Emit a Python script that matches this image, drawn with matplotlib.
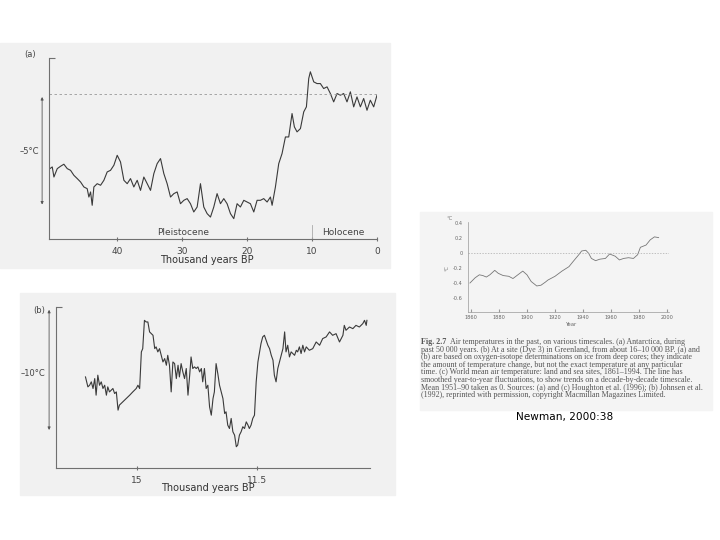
import numpy as np
import matplotlib
matplotlib.use("Agg")
import matplotlib.pyplot as plt
from matplotlib.patches import Rectangle

W, H = 720, 540

# (a) Antarctica, last 50 000 years: thousand years BP, temperature change (deg C)
a_kyr = [50.36, 50.0, 49.74, 49.23, 48.72, 48.21, 47.69, 47.18, 46.67, 46.15, 45.64, 45.13,
         44.62, 44.36, 44.10, 43.85, 43.59, 43.08, 42.56, 42.05, 41.54, 41.03, 40.51, 40.0,
         39.49, 38.97, 38.46, 37.95, 37.44, 36.92, 36.41, 35.90, 35.38, 34.87, 34.36, 33.85,
         33.33, 32.82, 32.31, 31.79, 31.28, 30.77, 30.26, 29.74, 29.23, 28.72, 28.21, 27.69,
         27.18, 26.67, 26.15, 25.64, 25.13, 24.62, 24.10, 23.59, 23.08, 22.56, 22.05, 21.54,
         21.03, 20.51, 20.0, 19.49, 18.97, 18.46, 17.95, 17.44, 16.92, 16.41, 16.15, 15.64,
         15.13, 14.62, 14.10, 13.59, 13.08, 12.72, 12.31, 11.79, 11.28, 10.87, 10.51, 10.26,
         9.74, 9.23, 8.72, 8.21, 7.69, 7.18, 6.67, 6.15, 5.64, 5.13, 4.62, 4.10, 3.59, 3.08,
         2.56, 2.05, 1.54, 1.03, 0.51, 0.0]
a_temp = [-6.58, -6.43, -7.32, -6.58, -6.37, -6.19, -6.58, -6.73, -7.17, -7.46, -7.76, -8.20,
          -8.35, -9.09, -8.64, -9.82, -8.20, -7.91, -8.05, -7.61, -6.87, -6.73, -6.28, -5.40,
          -5.99, -7.61, -7.91, -7.46, -8.20, -7.61, -8.50, -7.32, -7.91, -8.50, -7.02, -6.14,
          -5.69, -7.02, -7.91, -9.09, -8.79, -8.64, -9.68, -9.38, -9.23, -9.68, -10.41, -9.97,
          -7.91, -9.97, -10.56, -10.86, -9.97, -8.79, -9.68, -9.23, -9.68, -10.56, -11.00, -9.68,
          -9.97, -9.38, -9.53, -9.68, -10.41, -9.38, -9.38, -9.23, -9.53, -9.09, -9.82, -8.20,
          -6.14, -5.25, -3.78, -3.78, -1.71, -2.89, -3.33, -3.04, -1.56, -1.12, 1.39, 1.98,
          1.09, 0.94, 0.94, 0.50, 0.65, 0.06, -0.68, 0.06, -0.09, 0.06, -0.68, 0.21, -1.12, -0.24,
          -1.12, -0.38, -1.42, -0.53, -1.12, -0.09]
a_ticks = [40, 30, 20, 10, 0]

# (b) Dye 3, Greenland
b_kyr = [16.50, 16.43, 16.38, 16.33, 16.28, 16.23, 16.19, 16.14, 16.09, 16.04, 15.99, 15.94,
         15.89, 15.85, 15.80, 15.75, 15.70, 15.65, 15.60, 15.55, 15.51, 15.41, 15.31, 15.21,
         15.12, 15.02, 14.97, 14.92, 14.87, 14.83, 14.78, 14.73, 14.68, 14.63, 14.58, 14.53,
         14.48, 14.44, 14.39, 14.34, 14.29, 14.24, 14.19, 14.14, 14.10, 14.05, 14.00, 13.95,
         13.90, 13.85, 13.80, 13.76, 13.71, 13.66, 13.61, 13.56, 13.51, 13.46, 13.42, 13.37,
         13.32, 13.27, 13.22, 13.17, 13.12, 13.08, 13.03, 12.98, 12.93, 12.88, 12.83, 12.78,
         12.74, 12.69, 12.64, 12.59, 12.54, 12.49, 12.44, 12.40, 12.35, 12.30, 12.25, 12.20,
         12.15, 12.10, 12.06, 12.01, 11.96, 11.91, 11.86, 11.81, 11.76, 11.72, 11.67, 11.62,
         11.57, 11.52, 11.47, 11.42, 11.38, 11.33, 11.28, 11.23, 11.18, 11.13, 11.08, 11.03,
         10.99, 10.94, 10.89, 10.84, 10.79, 10.74, 10.69, 10.65, 10.60, 10.55, 10.50, 10.45,
         10.40, 10.35, 10.31, 10.26, 10.21, 10.16, 10.11, 10.06, 9.97, 9.87, 9.77, 9.67, 9.58,
         9.48, 9.38, 9.29, 9.19, 9.09, 8.99, 8.95, 8.90, 8.80, 8.70, 8.61, 8.51, 8.41, 8.36,
         8.31, 8.29]
b_temp = [-10.56, -11.35, -11.22, -10.95, -11.48, -10.69, -12.01, -10.42, -11.22, -10.95, -11.48, -11.22,
          -12.01, -11.35, -11.75, -11.61, -11.48, -11.88, -11.75, -13.20, -12.80, -12.54, -12.28, -12.01,
          -11.75, -11.48, -11.22, -11.48, -8.57, -8.31, -6.06, -6.19, -6.19, -6.98, -7.12, -7.25,
          -8.31, -8.17, -8.57, -8.31, -8.84, -9.37, -9.10, -9.63, -8.84, -9.63, -11.75, -9.37,
          -9.50, -10.69, -9.63, -10.56, -9.50, -10.16, -10.69, -9.89, -12.01, -10.42, -8.97, -9.89,
          -9.76, -9.89, -9.76, -10.16, -9.89, -10.95, -9.89, -11.48, -11.22, -12.94, -13.60, -12.28,
          -11.75, -9.50, -10.29, -11.22, -11.75, -12.28, -13.47, -13.33, -14.39, -14.66, -13.86, -14.92,
          -15.19, -16.11, -15.98, -15.19, -14.92, -14.52, -14.66, -14.13, -14.39, -14.66, -14.39, -13.86,
          -13.60, -10.95, -9.37, -8.57, -7.91, -7.38, -7.25, -7.65, -8.04, -8.31, -8.84, -9.23,
          -10.42, -10.95, -9.89, -9.37, -8.84, -8.31, -6.98, -8.57, -8.04, -8.97, -8.57, -8.70,
          -8.84, -8.44, -8.57, -8.17, -8.70, -8.04, -8.57, -8.17, -8.44, -8.31, -7.78, -8.04, -7.51,
          -7.38, -6.98, -7.25, -7.12, -7.78, -7.25, -6.46, -6.85, -6.59, -6.72, -6.46, -6.59, -6.32, -6.06,
          -6.46, -6.06]
b_ticks = [15, 11.5]

# (c) world mean air temperature, smoothed
c_year = [1859.3, 1863, 1866, 1868.5, 1871, 1873.5, 1877, 1879.5, 1883, 1887, 1890, 1893.5,
          1897, 1900, 1903, 1907, 1910, 1913, 1915, 1920, 1925, 1930, 1933, 1937, 1939, 1942,
          1944, 1946, 1949, 1952, 1956, 1959, 1963, 1966, 1969, 1972.5, 1976, 1979, 1981, 1985,
          1988, 1991, 1994]
c_temp = [-0.40, -0.33, -0.29, -0.30, -0.32, -0.29, -0.23, -0.27, -0.30, -0.31, -0.34, -0.29,
          -0.24, -0.29, -0.38, -0.44, -0.43, -0.39, -0.36, -0.31, -0.24, -0.18, -0.11, -0.02, 0.03,
          0.04, 0.00, -0.07, -0.10, -0.08, -0.07, -0.01, -0.04, -0.09, -0.07, -0.06, -0.07, -0.02,
          0.08, 0.11, 0.18, 0.22, 0.21]
c_xticks = [1860, 1880, 1900, 1920, 1940, 1960, 1980, 2000]
c_yticks = [0.4, 0.2, 0, -0.2, -0.4, -0.6]
c_ylabels = ["0.4", "0.2", "0", "-0.2", "-0.4", "-0.6"]

caption = [
    "Air temperatures in the past, on various timescales. (a) Antarctica, during",
    "past 50 000 years. (b) At a site (Dye 3) in Greenland, from about 16\u201310 000 BP. (a) and",
    "(b) are based on oxygen-isotope determinations on ice from deep cores; they indicate",
    "the amount of temperature change, but not the exact temperature at any particular",
    "time. (c) World mean air temperature: land and sea sites, 1861\u20131994. The line has",
    "smoothed year-to-year fluctuations, to show trends on a decade-by-decade timescale.",
    "Mean 1951\u201390 taken as 0. Sources: (a) and (c) Houghton et al. (1996); (b) Johnsen et al.",
    "(1992), reprinted with permission, copyright Macmillan Magazines Limited.",
]

ink = "#3a3a3a"
axc = "#707070"
bg = "#f1f1f1"

fig = plt.figure(figsize=(7.2, 5.4), dpi=100)


def fx(x):
    return x / W


def fy(y):
    return 1 - y / H


def box(x0, y0, x1, y1, color):
    fig.patches.append(Rectangle((fx(x0), fy(y1)), fx(x1 - x0), (y1 - y0) / H,
                                 transform=fig.transFigure, color=color, zorder=-5))


def make_axes(x0, y0, x1, y1):
    ax = fig.add_axes([fx(x0), fy(y1), fx(x1 - x0), (y1 - y0) / H])
    ax.set_facecolor("none")
    for s in ["top", "right"]:
        ax.spines[s].set_visible(False)
    for s in ["left", "bottom"]:
        ax.spines[s].set_color(axc)
        ax.spines[s].set_linewidth(0.8)
    return ax


def txt(x, y, s, **kw):
    fig.text(fx(x), fy(y), s, **kw)


sans = "DejaVu Sans"

# backgrounds of the scanned pieces
box(0, 43, 390, 268, bg)
box(20, 293, 395, 495, bg)
box(420, 212, 712, 410, "#f4f4f4")

# ---- panel (a)
ax = make_axes(49, 58, 377, 239)
ax.plot(a_kyr, a_temp, color=ink, lw=0.8)
ax.set_xlim(50.5, 0)
ax.set_ylim(-12.8, 3.2)
ax.axhline(0, color="#999999", lw=0.6, ls=(0, (3, 3)))
ax.set_xticks(a_ticks)
ax.set_xticklabels([str(t) for t in a_ticks], fontsize=6.5, color="#444444", family=sans)
ax.tick_params(axis="x", direction="inout", length=3, color=axc, pad=4)
ax.set_yticks([3.2])
ax.set_yticklabels([])
ax.tick_params(axis="y", direction="in", length=4, color=axc)
ax.plot([10, 10], [-11.6, -12.8], color="#aaaaaa", lw=0.6)
ax.text(29.8, -12.2, "Pleistocene", fontsize=6.5, color="#444444", ha="center", va="center", family=sans)
ax.text(5.2, -12.2, "Holocene", fontsize=6.5, color="#444444", ha="center", va="center", family=sans)
ax.annotate("", xy=(-0.021, 0), xytext=(-0.021, -10),
            xycoords=("axes fraction", "data"), textcoords=("axes fraction", "data"),
            arrowprops=dict(arrowstyle="<|-|>", color="#555555", lw=0.6, mutation_scale=4))
txt(207, 260, "Thousand years BP", fontsize=7, color="#333333", ha="center", va="center", family=sans)
txt(39, 152, "\u20135\u00b0C", fontsize=6, color="#444444", ha="right", va="center", family=sans)
txt(24, 54, "(a)", fontsize=6, color="#444444", ha="left", va="center", family=sans)

# ---- panel (b)
ax = make_axes(56, 307, 370, 468)
ax.plot(b_kyr, b_temp, color=ink, lw=0.8)
ax.set_xlim(17.36, 8.2)
ax.set_ylim(-17.8, -5)
ax.set_xticks(b_ticks)
ax.set_xticklabels(["15", "11.5"], fontsize=6.5, color="#444444", family=sans)
ax.tick_params(axis="x", direction="inout", length=3, color=axc, pad=4)
ax.set_yticks([-5])
ax.set_yticklabels([])
ax.tick_params(axis="y", direction="in", length=4, color=axc)
ax.annotate("", xy=(-0.022, -5), xytext=(-0.022, -15),
            xycoords=("axes fraction", "data"), textcoords=("axes fraction", "data"),
            arrowprops=dict(arrowstyle="<|-|>", color="#555555", lw=0.6, mutation_scale=4))
txt(208, 488, "Thousand years BP", fontsize=7, color="#333333", ha="center", va="center", family=sans)
txt(45, 373, "\u201310\u00b0C", fontsize=6, color="#444444", ha="right", va="center", family=sans)
txt(33, 310, "(b)", fontsize=6, color="#444444", ha="left", va="center", family=sans)

# ---- panel (c)
ax = make_axes(468, 222, 669, 312)
ax.plot(c_year, c_temp, color="#777777", lw=0.6)
ax.set_xlim(1857.9, 2001.4)
ax.set_ylim(-0.79, 0.42)
ax.axhline(0, color="#aaaaaa", lw=0.5, ls=(0, (2, 2)))
ax.spines["left"].set_linewidth(0.5)
ax.spines["bottom"].set_linewidth(0.5)
ax.spines["left"].set_color("#999999")
ax.spines["bottom"].set_color("#999999")
ax.set_xticks(c_xticks)
ax.set_xticklabels([str(t) for t in c_xticks], fontsize=3.6, color="#666666", family=sans)
ax.tick_params(axis="x", direction="in", length=2, color="#999999", pad=2)
ax.set_yticks(c_yticks)
ax.set_yticklabels(c_ylabels, fontsize=3.6, color="#666666", family=sans)
ax.tick_params(axis="y", length=0, pad=4)
txt(572, 325, "Year", fontsize=3.8, color="#666666", ha="center", va="center", family=sans)
txt(450, 218, "\u00b0C", fontsize=3.8, color="#777777", ha="center", va="center", family=sans)
txt(447, 268, "\u00b0C", fontsize=3.5, color="#777777", ha="center", va="center", rotation=90, family=sans)

# caption
serif = "Liberation Serif"
cap_fs = 5.8
cap_y = [342, 349.6, 357.2, 364.8, 372.4, 380, 387.6, 395.2]
fig.canvas.draw()
r = fig.canvas.get_renderer()
t0 = fig.text(fx(421), fy(cap_y[0]), "Fig. 2.7", fontsize=cap_fs, weight="bold", color="#555555",
              ha="left", va="center", family=serif)
wb = t0.get_window_extent(renderer=r).width
fig.text(fx(421 + wb + 4), fy(cap_y[0]), caption[0], fontsize=cap_fs, color="#555555",
         ha="left", va="center", family=serif)
for line, yy in zip(caption[1:], cap_y[1:]):
    fig.text(fx(421), fy(yy), line, fontsize=cap_fs, color="#555555", ha="left", va="center", family=serif)

txt(565, 417, "Newman, 2000:38", fontsize=7.6, color="black", ha="center", va="center", family=sans)

fig.savefig("out.png", dpi=100)
